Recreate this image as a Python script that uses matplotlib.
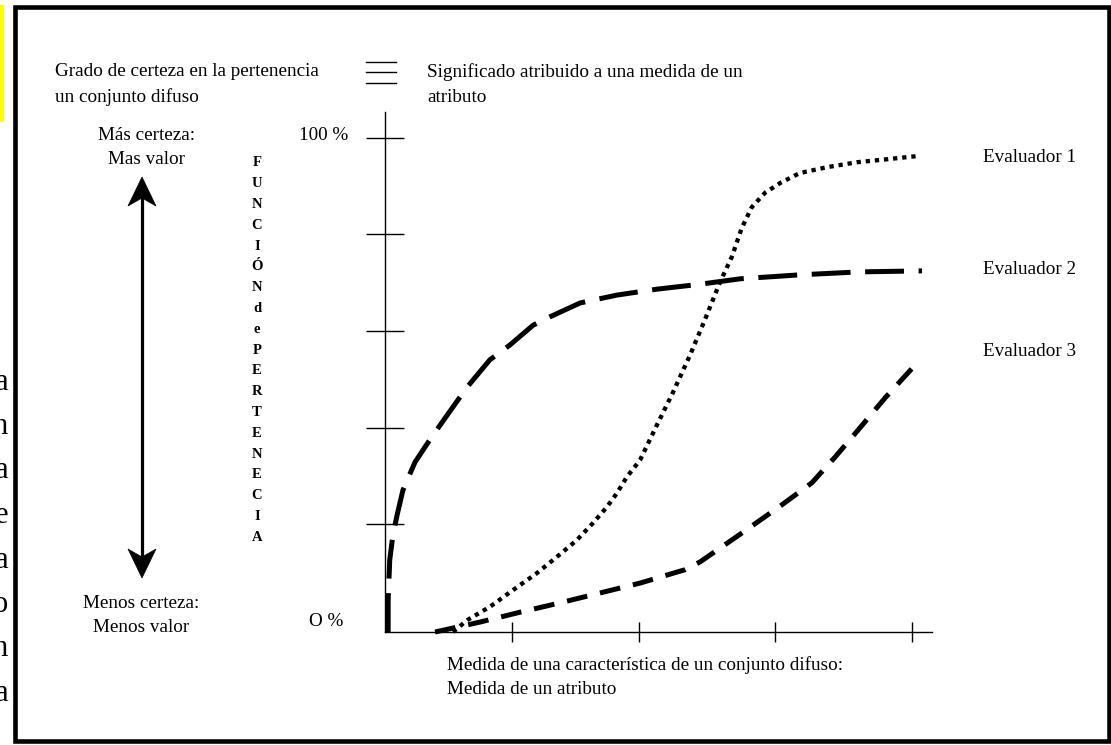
import matplotlib
matplotlib.use("Agg")
import matplotlib.pyplot as plt
from matplotlib.patches import Rectangle, Polygon
from matplotlib.lines import Line2D

plt.rcParams['font.family'] = ['Liberation Serif', 'DejaVu Serif']
plt.rcParams['lines.scale_dashes'] = False

W, H = 1111, 745

# ---------------- data ----------------
eval1_x = [12.9, 15.6, 19.9, 24.3, 28.8, 32.6, 36.4, 39.5, 42.1, 44.0, 45.9, 48.4,
           51.6, 54.6, 57.9, 60.7, 63.6, 65.8, 67.7, 69.6, 72.1, 75.0, 78.7, 83.9,
           89.6, 95.3, 101.5]
eval1_y = [0.0, 2.4, 5.1, 8.5, 11.9, 15.2, 18.6, 22.1, 25.3, 28.1, 31.4, 34.8,
           41.9, 48.4, 56.1, 63.2, 70.9, 75.9, 81.8, 86.0, 88.9, 90.9, 92.9, 94.1,
           95.1, 95.7, 96.4]

eval2_x = [0.6, 0.6, 0.9, 1.5, 2.3, 3.4, 5.7, 8.5, 11.4, 15.6, 19.9, 23.7, 28.1,
           31.3, 37.0, 44.0, 51.6, 59.8, 67.4, 78.7, 90.1, 101.9]
eval2_y = [0.0, 6.5, 14.6, 19.6, 23.7, 28.7, 34.4, 38.9, 43.3, 49.6, 55.1, 58.1,
           62.1, 63.8, 66.6, 68.2, 69.4, 70.4, 71.5, 72.3, 72.9, 73.1]

eval3_x = [9.5, 18.0, 25.6, 33.2, 40.8, 48.4, 56.9, 59.8, 67.4, 75.0, 81.0, 85.4,
           90.1, 94.9, 101.5]
eval3_y = [0.0, 2.0, 4.0, 5.9, 7.9, 9.9, 12.6, 14.2, 19.8, 25.5, 30.2, 35.4,
           41.3, 47.4, 55.1]

series_names = ["Evaluador 1", "Evaluador 2", "Evaluador 3"]

y_ticks = [21.9, 41.3, 60.9, 80.6, 100.0]
x_ticks = [24.1, 48.2, 74.0, 100.0]

vertical_label = ["F", "U", "N", "C", "I", "Ó", "N", "d", "e", "P", "E", "R",
                  "T", "E", "N", "E", "C", "I", "A"]
cut_letters = ["a", "n", "a", "e", "a", "o", "n", "a"]

# ---------------- figure ----------------
fig = plt.figure(figsize=(W / 100, H / 100), dpi=100)
fig.patch.set_facecolor("white")


def fx(x):
    return x / W


def fy(y):
    return 1 - y / H


# plot axes: origin at pixel (385, 632), x 100 at 912, y 100 at 138
x0p, y0p = 385, 632
xr, yr = 932, 112
ax = fig.add_axes([fx(x0p), fy(y0p), (xr - x0p) / W, (y0p - yr) / H])
ax.set_xlim(0, (xr - x0p) / 5.27)
ax.set_ylim(0, (y0p - yr) / 4.94)
ax.patch.set_alpha(0)
for s in ["top", "right"]:
    ax.spines[s].set_visible(False)
for s in ["left", "bottom"]:
    ax.spines[s].set_linewidth(1.0)
ax.set_yticks(y_ticks)
ax.set_xticks(x_ticks)
ax.tick_params(axis="y", direction="inout", length=27.5, width=1.0, labelleft=False)
ax.tick_params(axis="x", direction="inout", length=14, width=1.0, labelbottom=False)

ax.plot(eval1_x, eval1_y, color="black", lw=3.1, dashes=[3.1, 3.5],
        solid_capstyle="butt", clip_on=False)
ax.plot(eval2_x, eval2_y, color="black", lw=3.6, dashes=[28, 10.5],
        clip_on=False)
ax.plot(eval3_x, eval3_y, color="black", lw=3.6, dashes=[15, 9.4],
        clip_on=False)

# ---------------- decorations ----------------
# yellow strip
fig.patches.append(Rectangle((fx(0), fy(122)), fx(4), (122 - 5) / H,
                             transform=fig.transFigure, facecolor="#FFFF00",
                             edgecolor="none", zorder=0))
# frame
fig.patches.append(Rectangle((fx(15), fy(740.5)), (1108.5 - 15) / W, (740.5 - 6.5) / H,
                             transform=fig.transFigure, facecolor="none",
                             edgecolor="black", linewidth=3.3, zorder=5))

# cut letters on the far left (partly outside the picture, as in the original)
for i, ch in enumerate(cut_letters):
    fig.text(fx(8), fy(382 + i * 44.5), ch, ha="right", va="center",
             fontsize=22, color="black")

fs = 13.8
fig.text(fx(55), fy(72), "Grado de certeza en la pertenencia", ha="left", va="center", fontsize=fs)
fig.text(fx(55), fy(97), "un conjunto difuso", ha="left", va="center", fontsize=fs)
fig.text(fx(427), fy(72), "Significado atribuido a una medida de un", ha="left", va="center", fontsize=fs)
fig.text(fx(427), fy(97), "atributo", ha="left", va="center", fontsize=fs)

# equivalence sign
for yy in [62, 72, 83]:
    fig.lines.append(Line2D([fx(366), fx(396)], [fy(yy), fy(yy)],
                            transform=fig.transFigure, color="black", lw=1.0))

fig.text(fx(146), fy(135), "Más certeza:", ha="center", va="center", fontsize=fs)
fig.text(fx(146), fy(160), "Mas valor", ha="center", va="center", fontsize=fs)
fig.text(fx(141), fy(604), "Menos certeza:", ha="center", va="center", fontsize=fs)
fig.text(fx(141), fy(628), "Menos valor", ha="center", va="center", fontsize=fs)

# double arrow
ax_x = 142
fig.lines.append(Line2D([fx(ax_x), fx(ax_x)], [fy(195), fy(560)],
                        transform=fig.transFigure, color="black", lw=2.3))
top_head = [(ax_x, 177), (ax_x - 14, 206), (ax_x, 198), (ax_x + 14, 206)]
bot_head = [(ax_x, 578), (ax_x - 14, 549), (ax_x, 557), (ax_x + 14, 549)]
for head in (top_head, bot_head):
    fig.patches.append(Polygon([(fx(a), fy(b)) for a, b in head], closed=True,
                               transform=fig.transFigure, facecolor="black",
                               edgecolor="black", lw=0.5))

fig.text(fx(348), fy(135), "100 %", ha="right", va="center", fontsize=fs)
fig.text(fx(343), fy(622), "O %", ha="right", va="center", fontsize=fs)

for i, ch in enumerate(vertical_label):
    fig.text(fx(257), fy(163 + i * 20.8), ch, ha="center", va="center",
             fontsize=10.5, fontweight="bold")

for name, yy in zip(series_names, [157, 270, 352]):
    fig.text(fx(983), fy(yy), name, ha="left", va="center", fontsize=fs)

fig.text(fx(447), fy(665), "Medida de una característica de un conjunto difuso:",
         ha="left", va="center", fontsize=fs)
fig.text(fx(447), fy(690), "Medida de un atributo", ha="left", va="center", fontsize=fs)

fig.savefig("out.png", dpi=100)
